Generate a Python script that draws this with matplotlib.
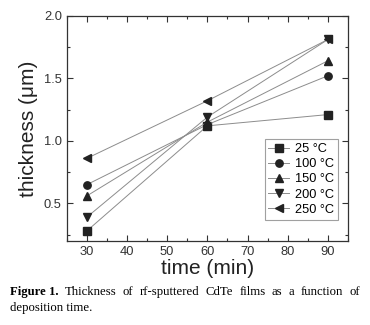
import numpy as np
import matplotlib.pyplot as plt
from matplotlib.ticker import MultipleLocator

plt.rcParams['font.family'] = ['Liberation Sans', 'DejaVu Sans']

time = [30, 60, 90]
labels = ["25 °C", "100 °C", "150 °C", "200 °C", "250 °C"]
markers = ["s", "o", "^", "v", "<"]
t25 = [0.28, 1.12, 1.21]
t100 = [0.65, 1.13, 1.52]
t150 = [0.56, 1.15, 1.64]
t200 = [0.39, 1.19, 1.81]
t250 = [0.86, 1.32, 1.81]
series = [t25, t100, t150, t200, t250]

caption_bold = "Figure 1."
caption_line1 = "Thickness of rf-sputtered CdTe films as a function of"
caption_line2 = "deposition time."

fig = plt.figure(figsize=(3.7, 3.25), dpi=100)
ax = fig.add_axes([66.7 / 370, 1 - 241 / 325, (348 - 66.7) / 370, (241 - 15.7) / 325])

for y, lab, m in zip(series, labels, markers):
    ax.plot(time, y, color="#8c8c8c", lw=0.7, marker=m, ms=5.3,
            mfc="#222222", mec="#222222", label=lab)

ax.set_xlim(25, 95)
ax.set_ylim(0.2, 2.0)
ax.xaxis.set_major_locator(MultipleLocator(10))
ax.xaxis.set_minor_locator(MultipleLocator(5))
ax.yaxis.set_major_locator(MultipleLocator(0.5))
ax.yaxis.set_minor_locator(MultipleLocator(0.25))
ax.tick_params(which="both", direction="in", top=True, right=True,
               labelsize=9.3, colors="#333333", width=0.8)
ax.tick_params(which="major", length=4)
ax.tick_params(which="minor", length=2)
for s in ax.spines.values():
    s.set_color("#333333")
    s.set_linewidth(0.9)

ax.set_xlabel("time (min)", fontsize=15, color="#222222", labelpad=1)
ax.set_ylabel("thickness (\u03bcm)", fontsize=15, color="#222222", labelpad=4)

leg = ax.legend(loc="lower right", bbox_to_anchor=(0.965, 0.095), fontsize=9.2,
                frameon=True, fancybox=False, handlelength=1.6, handletextpad=0.5,
                borderpad=0.3, labelspacing=0.25, borderaxespad=0)
leg.get_frame().set_edgecolor("#888888")
leg.get_frame().set_linewidth(0.8)

# caption, first line justified between x=10 and x=360 px
renderer = fig.canvas.get_renderer()
words = [(caption_bold, "bold")] + [(w, "normal") for w in caption_line1.split()]
texts = []
for w, weight in words:
    t = fig.text(0, 1 - 292 / 325, w, fontsize=9.2, family="Liberation Serif",
                 fontweight=weight, va="center")
    texts.append(t)
widths = [t.get_window_extent(renderer).width for t in texts]
left, right = 10, 360
gap = (right - left - sum(widths)) / (len(texts) - 1)
x = left
for t, wd in zip(texts, widths):
    t.set_x(x / 370)
    x += wd + gap
fig.text(10 / 370, 1 - 308 / 325, caption_line2, fontsize=9.2,
         family="Liberation Serif", va="center")

fig.savefig("out.png", dpi=100)
